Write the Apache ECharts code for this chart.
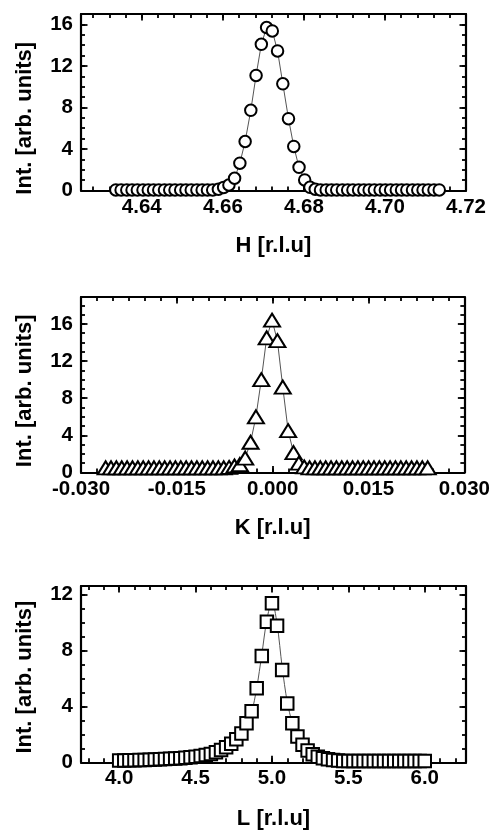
<!DOCTYPE html>
<html><head><meta charset="utf-8">
<script src="https://cdn.jsdelivr.net/npm/echarts@6/dist/echarts.min.js"></script>
<style>html,body{margin:0;padding:0;background:#fff}#c{width:493px;height:832px}</style>
</head><body><div id="c"></div>
<script>
// ---- H scan (circles) ----
const H_X = [4.6336,4.6349,4.6363,4.6376,4.6389,4.6403,4.6416,4.6429,4.6442,4.6456,4.6469,4.6482,4.6496,4.6509,4.6522,4.6536,4.6549,4.6562,4.6575,4.6589,4.6602,4.6615,4.6629,4.6642,4.6655,4.6669,4.6682,4.6695,4.6708,4.6722,4.6735,4.6748,4.6762,4.6775,4.6788,4.6802,4.6815,4.6828,4.6841,4.6855,4.6868,4.6881,4.6895,4.6908,4.6921,4.6935,4.6948,4.6961,4.6974,4.6988,4.7001,4.7014,4.7028,4.7041,4.7054,4.7068,4.7081,4.7094,4.7107,4.7121,4.7134];
const H_Y = [0.05,0.05,0.05,0.05,0.05,0.05,0.05,0.05,0.05,0.05,0.05,0.05,0.05,0.05,0.05,0.05,0.05,0.05,0.05,0.12,0.3,0.53,1.18,2.63,4.72,7.72,11.08,14.08,15.70,15.37,13.44,10.28,6.92,4.24,2.23,1.02,0.31,0.12,0.05,0.05,0.05,0.05,0.05,0.05,0.05,0.05,0.05,0.05,0.05,0.05,0.05,0.05,0.05,0.05,0.05,0.05,0.05,0.05,0.05,0.05,0.05];
// ---- K scan (triangles) ----
const K_X = [-0.02614,-0.0253,-0.02446,-0.02362,-0.02278,-0.02194,-0.0211,-0.02026,-0.01942,-0.01858,-0.01774,-0.0169,-0.01606,-0.01522,-0.01438,-0.01354,-0.0127,-0.01186,-0.01102,-0.01018,-0.00934,-0.0085,-0.00766,-0.00682,-0.00598,-0.00514,-0.0043,-0.00346,-0.00262,-0.00178,-0.00094,-0.0001,0.00074,0.00158,0.00242,0.00326,0.0041,0.00494,0.00578,0.00662,0.00746,0.0083,0.00914,0.00998,0.01082,0.01166,0.0125,0.01334,0.01418,0.01502,0.01586,0.0167,0.01754,0.01838,0.01922,0.02006,0.0209,0.02174,0.02258,0.02342,0.02426];
const K_Y = [0.5,0.5,0.5,0.5,0.5,0.5,0.5,0.5,0.5,0.5,0.5,0.5,0.5,0.5,0.5,0.5,0.5,0.5,0.5,0.5,0.5,0.5,0.5,0.55,0.7,0.85,1.55,3.26,6.0,10.0,14.5,16.4,14.2,9.2,4.5,2.15,1.0,0.6,0.5,0.5,0.5,0.5,0.5,0.5,0.5,0.5,0.5,0.5,0.5,0.5,0.5,0.5,0.5,0.5,0.5,0.5,0.5,0.5,0.5,0.5,0.5];
// ---- L scan (squares) and fitted line ----
const L_X = [4.0,4.0333,4.0667,4.1,4.1333,4.1667,4.2,4.2333,4.2667,4.3,4.3333,4.3667,4.4,4.4333,4.4667,4.5,4.5333,4.5667,4.6,4.6333,4.6667,4.7,4.7333,4.7667,4.8,4.8333,4.8667,4.9,4.9333,4.9667,5.0,5.0333,5.0667,5.1,5.1333,5.1667,5.2,5.2333,5.2667,5.3,5.3333,5.3667,5.4,5.4333,5.4667,5.5,5.5333,5.5667,5.6,5.6333,5.6667,5.7,5.7333,5.7667,5.8,5.8333,5.8667,5.9,5.9333,5.9667,6.0];
const L_Y = [0.12,0.13,0.14,0.15,0.16,0.17,0.18,0.2,0.21,0.23,0.25,0.27,0.29,0.32,0.36,0.4,0.45,0.52,0.6,0.72,0.88,1.08,1.33,1.65,2.05,2.79,3.65,5.29,7.6,10.04,11.36,9.76,6.59,4.21,2.79,1.85,1.25,0.85,0.57,0.4,0.29,0.21,0.16,0.13,0.1,0.1,0.1,0.1,0.1,0.1,0.1,0.1,0.1,0.1,0.1,0.1,0.1,0.1,0.1,0.1,0.1];
const L_FIT = [0.06,0.06,0.07,0.07,0.08,0.08,0.09,0.1,0.1,0.11,0.12,0.13,0.15,0.16,0.18,0.2,0.23,0.27,0.32,0.38,0.47,0.6,0.8,1.1,1.55,2.3,3.5,5.3,7.7,10.2,11.5,9.9,6.8,4.3,2.8,1.85,1.25,0.88,0.62,0.45,0.34,0.27,0.22,0.18,0.15,0.13,0.12,0.11,0.1,0.1,0.09,0.09,0.08,0.08,0.08,0.07,0.07,0.07,0.06,0.06,0.06];
// ---- tick labels ----
const H_XTICKS = [4.64,4.66,4.68,4.70,4.72];
const K_XTICKS = [-0.030,-0.015,0.000,0.015,0.030];
const L_XTICKS = [4.0,4.5,5.0,5.5,6.0];
const H_YTICKS = [0,4,8,12,16];
const K_YTICKS = [0,4,8,12,16];
const L_YTICKS = [0,4,8,12];
const X_NAMES = ['H [r.l.u]','K [r.l.u]','L [r.l.u]'];
const Y_NAME = 'Int. [arb. units]';

function steps(min, max, anchor, step) {
  const out = [];
  const n0 = Math.ceil((min - anchor) / step - 1e-9);
  for (let n = n0; anchor + n * step <= max + 1e-9; n++) out.push(+(anchor + n * step).toFixed(6));
  return out;
}

const FONT = "'Liberation Sans', Arial, Helvetica, sans-serif";
const panels = [
  {top:14, height:176.5, xmin:4.625, xmax:4.72, xt:H_XTICKS, xms:0.004, ymax:17, yt:H_YTICKS, dec:2, gapx:44, yshift:32},
  {top:297, height:175.5, xmin:-0.03, xmax:0.03, xt:K_XTICKS, xms:0.0025, ymax:18.9, yt:K_YTICKS, dec:3, gapx:44, yshift:12},
  {top:586, height:176.3, xmin:3.75, xmax:6.27, xt:L_XTICKS, xms:0.1, ymax:12.6, yt:L_YTICKS, dec:1, gapx:46, yshift:6}
];

const grid = [], xAxis = [], yAxis = [], series = [];
panels.forEach((p, i) => {
  grid.push({left:81, right:27, top:p.top, height:p.height});
  const xMinor = steps(p.xmin, p.xmax, p.xt[0], p.xms);
  const yMinor = steps(0, p.ymax, 0, 1);
  const mkX = (pos, major, withLabel, line) => ({
    type:'value', gridIndex:i, position:pos, min:p.xmin, max:p.xmax,
    axisLine:{show:line, onZero:false, lineStyle:{color:'#000', width:2.2}},
    axisTick:{show:true, inside:true, length: major ? 6.5 : 4, lineStyle:{color:'#000', width:1.8},
      customValues: major ? p.xt : xMinor},
    axisLabel:{show:withLabel, customValues: major ? p.xt : xMinor, margin:6, color:'#000',
      fontFamily:FONT, fontWeight:'bold', fontSize:20.5, formatter:v => v.toFixed(p.dec)},
    splitLine:{show:false},
    name: withLabel ? X_NAMES[i] : '', nameLocation:'middle', nameGap:p.gapx,
    nameTextStyle:{color:'#000', fontFamily:FONT, fontWeight:'bold', fontSize:22}
  });
  const mkY = (pos, major, withLabel, line) => ({
    type:'value', gridIndex:i, position:pos, min:0, max:p.ymax,
    axisLine:{show:line, onZero:false, lineStyle:{color:'#000', width:2.2}},
    axisTick:{show:true, inside:true, length: major ? 6.5 : 4, lineStyle:{color:'#000', width:1.8},
      customValues: major ? p.yt : yMinor},
    axisLabel:{show:withLabel, customValues: major ? p.yt : yMinor, margin:8, color:'#000',
      fontFamily:FONT, fontWeight:'bold', fontSize:20.5},
    splitLine:{show:false},
    name: withLabel ? Y_NAME : '', nameLocation:'middle', nameGap:45,
    nameTextStyle:{color:'#000', fontFamily:FONT, fontWeight:'bold', fontSize:22,
      padding:[0, p.yshift, 0, 0]}
  });
  xAxis.push(mkX('bottom', true, true, true), mkX('bottom', false, false, false),
             mkX('top', true, false, true), mkX('top', false, false, false));
  yAxis.push(mkY('left', true, true, true), mkY('left', false, false, false),
             mkY('right', true, false, true), mkY('right', false, false, false));
});

const sym = {color:'#fff', borderColor:'#000', borderWidth:2};
series.push({
  type:'line', xAxisIndex:0, yAxisIndex:0, data:H_X.map((x, j) => [x, H_Y[j]]),
  symbol:'circle', symbolSize:11.5, showAllSymbol:true, itemStyle:sym,
  lineStyle:{color:'#555', width:1}
});
series.push({
  type:'line', xAxisIndex:4, yAxisIndex:4, data:K_X.map((x, j) => [x, K_Y[j]]),
  symbol:'triangle', symbolSize:[16, 13], showAllSymbol:true, itemStyle:sym,
  lineStyle:{color:'#555', width:1}
});
series.push({
  type:'line', xAxisIndex:8, yAxisIndex:8, data:L_X.map((x, j) => [x, L_FIT[j]]),
  symbol:'none', smooth:0.3, lineStyle:{color:'#555', width:1}, z:1
});
series.push({
  type:'line', xAxisIndex:8, yAxisIndex:8, data:L_X.map((x, j) => [x, L_Y[j]]),
  symbol:'rect', symbolSize:12.5, showAllSymbol:true, itemStyle:sym,
  lineStyle:{opacity:0}, z:3
});

const chart = echarts.init(document.getElementById('c'), null, {renderer:'canvas'});
chart.setOption({animation:false, backgroundColor:'#fff', grid, xAxis, yAxis, series});
</script></body></html>
